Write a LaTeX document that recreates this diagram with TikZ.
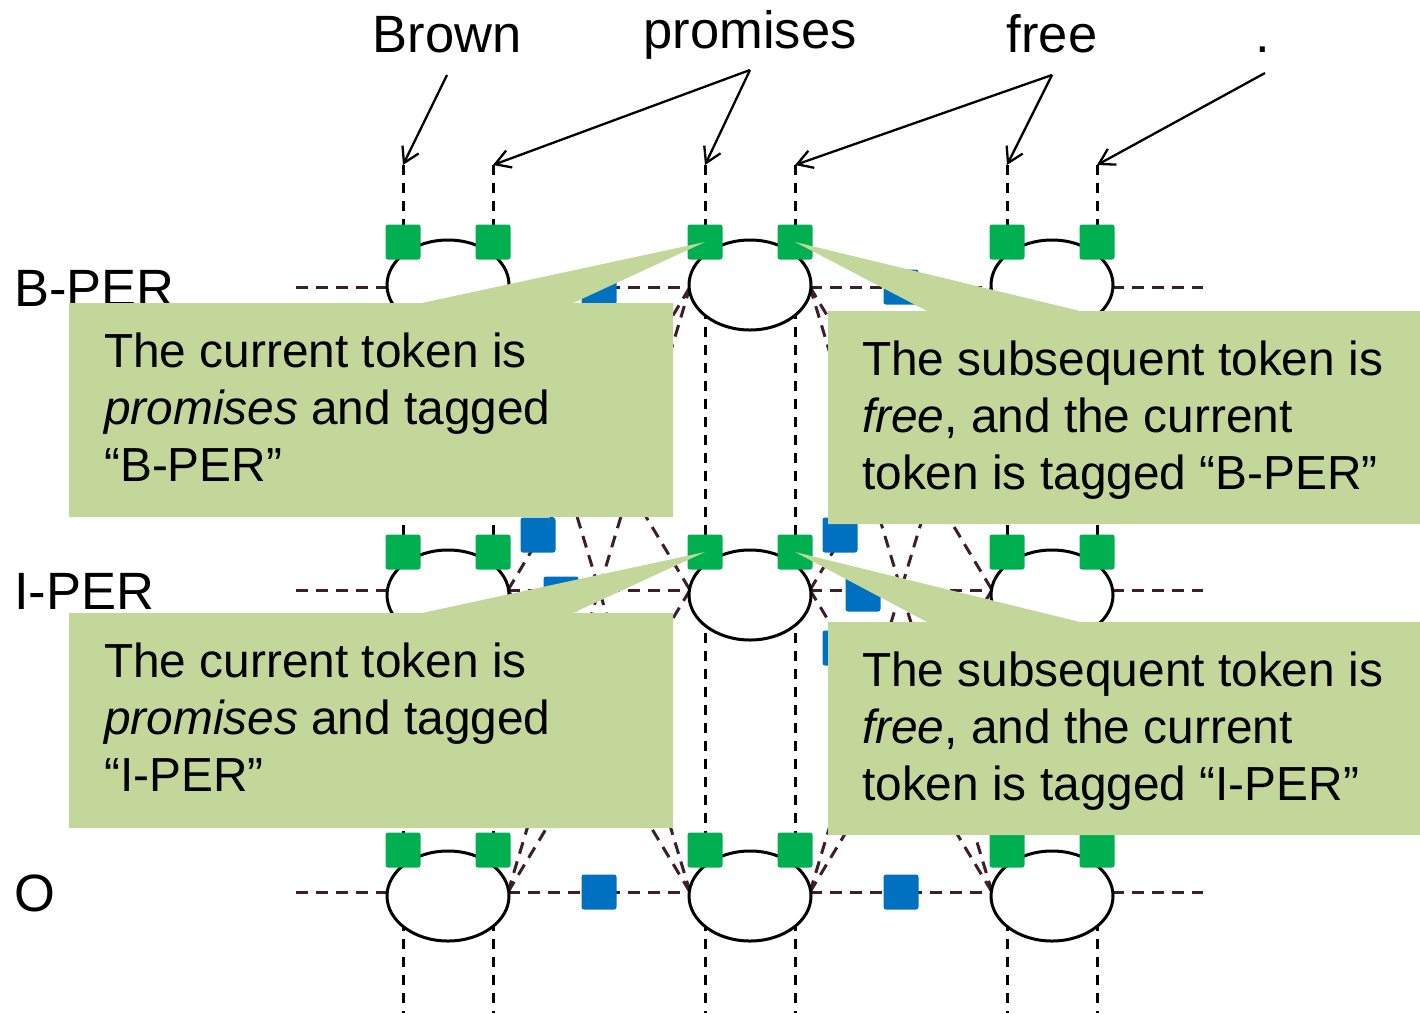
\documentclass[tikz,border=0pt]{standalone}
\usepackage{fontspec}
\setmainfont{Liberation Sans}
\usetikzlibrary{arrows.meta,shapes.geometric}
\definecolor{calloutgreen}{RGB}{196,215,155}
\definecolor{factorgreen}{RGB}{0,176,80}
\definecolor{factorblue}{RGB}{0,112,192}
\definecolor{edgebrown}{RGB}{62,30,42}

\begin{document}
\begin{tikzpicture}[x=1pt,y=-1pt,
  lab/.style={font=\fontsize{52.5}{62}\selectfont, inner sep=0pt, anchor=base},
  rowlab/.style={font=\fontsize{52.5}{62}\selectfont, inner sep=0pt, anchor=base west},
  say/.style={font=\fontsize{47.8}{57}\selectfont, inner sep=0pt, anchor=base west},
  tagnode/.style={ellipse, draw=black, line width=3pt, fill=white,
    minimum width=122pt, minimum height=90pt, inner sep=0pt},
  gfac/.style={rectangle, fill=factorgreen, minimum size=35pt,
    rounded corners=2.5pt, inner sep=0pt},
  bfac/.style={rectangle, fill=factorblue, minimum size=35pt,
    rounded corners=2.5pt, inner sep=0pt},
  link/.style={draw=edgebrown, line width=3pt, dash pattern=on 12pt off 8pt},
  drop/.style={draw=black, line width=3pt, dash pattern=on 10pt off 8pt},
  wordarrow/.style={draw=black, line width=2.3pt,
    -{Straight Barb[length=15pt,width=18pt,line width=2.3pt]}},
  bubble/.style={fill=calloutgreen},
]
\useasboundingbox (0,0) rectangle (1420,1013);

% attachment points of the transition edges on each tag ellipse
\foreach \c/\x in {1/448,2/750,3/1052}
  \foreach \r/\y in {b/287,i/590,o/892} {
    \coordinate (in-\c\r) at (\x-60,\y);
    \coordinate (out-\c\r) at (\x+60,\y);
  }
\foreach \r/\y in {b/287,i/590,o/892} {
  \coordinate (lstub-\r) at (296,\y);
  \coordinate (rstub-\r) at (1203,\y);
}

% row labels
\node[rowlab] (row-b) at (14,306) {B-PER};
\node[rowlab] (row-i) at (14,609) {I-PER};
\node[rowlab] (row-o) at (14,911) {O};

% transition edges
\foreach \r in {b,i,o} {
  \draw[link] (lstub-\r) -- (in-1\r);
  \draw[link] (out-3\r) -- (rstub-\r);
}
\foreach \g/\h in {1/2,2/3}
  \foreach \a in {b,i,o}
    \foreach \b in {b,i,o}
      \draw[link] (out-\g\a) -- (in-\h\b);

% observation lines
\foreach \k/\x in {1/403,2/493,3/705,4/795,5/1007,6/1097} {
  \coordinate (top-\k) at (\x,165);
  \coordinate (bot-\k) at (\x,1013);
  \draw[drop] (top-\k) -- (bot-\k);
}

% tag variables
\foreach \c/\x in {1/448,2/750,3/1052}
  \foreach \r/\y in {b/285,i/595,o/896}
    \node[tagnode] (tag-\c\r) at (\x,\y) {};

% observation factors
\foreach \k/\x in {1/403,2/493,3/705,4/795,5/1007,6/1097}
  \foreach \r/\y in {b/242,i/552,o/850}
    \node[gfac] (g-\k\r) at (\x,\y) {};

% transition factors
\foreach \g/\d in {1/0,2/302} {
  \node[bfac] (t-\g bb) at (599+\d,287) {};
  \node[bfac] (t-\g oo) at (599+\d,892) {};
  \node[bfac] (t-\g ib) at (538+\d,535) {};
  \node[bfac] (t-\g ii) at (561+\d,594) {};
  \node[bfac] (t-\g io) at (538+\d,648) {};
}

% callouts
\fill[bubble] (69,303) -- (422,303) -- (g-3b.center) -- (573,303) -- (673,303)
  -- (673,517) -- (69,517) -- cycle;
\fill[bubble] (828,311) -- (927,311) -- (g-4b.center) -- (1080,311) -- (1420,311)
  -- (1420,524) -- (828,524) -- cycle;
\fill[bubble] (69,613) -- (422,613) -- (g-3i.center) -- (573,613) -- (673,613)
  -- (673,828) -- (69,828) -- cycle;
\fill[bubble] (828,622) -- (927,622) -- (g-4i.center) -- (1080,622) -- (1420,622)
  -- (1420,835) -- (828,835) -- cycle;

\node[say] (c1a) at (104,367) {The current token is};
\node[say] (c1b) at (104,424) {\textit{promises} and tagged};
\node[say] (c1c) at (104,481) {“B-PER”};
\node[say] (c2a) at (862,375) {The subsequent token is};
\node[say] (c2b) at (862,432) {\textit{free}, and the current};
\node[say] (c2c) at (862,489) {token is tagged “B-PER”};
\node[say] (c3a) at (104,677) {The current token is};
\node[say] (c3b) at (104,734) {\textit{promises} and tagged};
\node[say] (c3c) at (104,791) {“I-PER”};
\node[say] (c4a) at (862,686) {The subsequent token is};
\node[say] (c4b) at (862,743) {\textit{free}, and the current};
\node[say] (c4c) at (862,800) {token is tagged “I-PER”};

% words and their arrows
\node[lab] (w-brown) at (447,52) {Brown};
\node[lab] (w-promises) at (750,48) {promises};
\node[lab] (w-free) at (1052,52) {free};
\node[lab] (w-stop) at (1263,52) {.};
\coordinate (from-brown) at (447,75);
\coordinate (from-promises) at (750,70);
\coordinate (from-free) at (1052,75);
\coordinate (from-stop) at (1265,73);
\draw[wordarrow] (from-brown) -- (top-1);
\draw[wordarrow] (from-promises) -- (top-2);
\draw[wordarrow] (from-promises) -- (top-3);
\draw[wordarrow] (from-free) -- (top-4);
\draw[wordarrow] (from-free) -- (top-5);
\draw[wordarrow] (from-stop) -- (top-6);
\end{tikzpicture}
\end{document}
